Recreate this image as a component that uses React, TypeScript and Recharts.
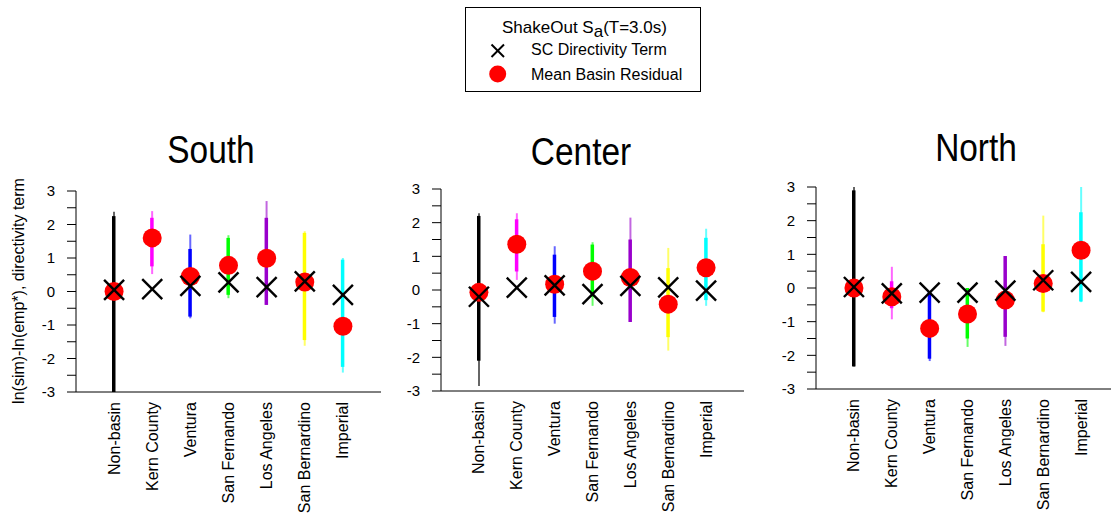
import React from "react";
import { ComposedChart, Bar, Scatter, XAxis, YAxis, Cell } from "recharts";

const REGIONS = [
  "Non-basin",
  "Kern County",
  "Ventura",
  "San Fernando",
  "Los Angeles",
  "San Bernardino",
  "Imperial",
];
const REGION_COLORS = ["#000000", "#ff00ff", "#0000ff", "#00ff00", "#9900cc", "#ffff00", "#00ffff"];
const Y_TICKS = [-3, -2.5, -2, -1.5, -1, -0.5, 0, 0.5, 1, 1.5, 2, 2.5, 3];

// South
const SOUTH_DIR = [0.05, 0.07, 0.17, 0.27, 0.13, 0.3, -0.1];
const SOUTH_RESID = [0.0, 1.6, 0.45, 0.78, 0.99, 0.28, -1.04];
const SOUTH_MIN = [-3.0, 0.52, -0.8, -0.2, -0.4, -1.62, -2.42];
const SOUTH_MAX = [2.38, 2.4, 1.7, 1.68, 2.7, 1.8, 1.0];
const SOUTH_CORE_MIN = [-3.0, 0.75, -0.75, -0.1, -0.4, -1.45, -2.25];
const SOUTH_CORE_MAX = [2.25, 2.2, 1.27, 1.6, 2.2, 1.75, 0.95];

// Center
const CENTER_DIR = [-0.2, 0.07, 0.14, -0.12, 0.12, 0.08, -0.02];
const CENTER_RESID = [-0.07, 1.36, 0.17, 0.56, 0.37, -0.42, 0.66];
const CENTER_MIN = [-2.85, 0.3, -1.0, -0.47, -0.95, -1.8, -0.47];
const CENTER_MAX = [2.28, 2.28, 1.3, 1.42, 2.15, 1.25, 1.82];
const CENTER_CORE_MIN = [-2.1, 0.55, -0.8, -0.2, -0.95, -1.4, -0.3];
const CENTER_CORE_MAX = [2.2, 2.1, 1.05, 1.35, 1.5, 0.65, 1.55];

// North
const NORTH_DIR = [0.03, -0.16, -0.14, -0.14, -0.08, 0.23, 0.18];
const NORTH_RESID = [0.0, -0.26, -1.2, -0.77, -0.36, 0.13, 1.12];
const NORTH_MIN = [-2.33, -0.93, -2.17, -1.75, -1.72, -0.72, -0.42];
const NORTH_MAX = [3.05, 0.63, -0.1, 0.0, 0.95, 2.15, 3.15];
const NORTH_CORE_MIN = [-2.33, -0.6, -2.1, -1.5, -1.45, -0.7, -0.4];
const NORTH_CORE_MAX = [2.9, 0.2, -0.1, 0.0, 0.95, 1.3, 2.25];

const FONT = "'Liberation Sans', Arial, sans-serif";

const build = (
  dir: number[],
  resid: number[],
  lo: number[],
  hi: number[],
  coreLo: number[],
  coreHi: number[]
) =>
  REGIONS.map((name, i) => ({
    name,
    dir: dir[i],
    resid: resid[i],
    full: [lo[i], hi[i]],
    core: [coreLo[i], coreHi[i]],
  }));

const CrossMark = (props: any) => {
  const { cx, cy } = props;
  const s = 10;
  return (
    <g stroke="#000" strokeWidth={2.4}>
      <line x1={cx - s} y1={cy - s} x2={cx + s} y2={cy + s} />
      <line x1={cx - s} y1={cy + s} x2={cx + s} y2={cy - s} />
    </g>
  );
};

const RedDot = (props: any) => <circle cx={props.cx} cy={props.cy} r={9.5} fill="#ff0000" />;

const RegionTick = (props: any) => {
  const { x, y, payload } = props;
  return (
    <text
      x={x}
      y={y}
      transform={`rotate(-90 ${x} ${y})`}
      textAnchor="end"
      dominantBaseline="central"
      fontSize={16}
      fontFamily={FONT}
      fill="#000"
    >
      {payload.value}
    </text>
  );
};

interface PanelProps {
  data: ReturnType<typeof build>;
  left: number;
  width: number;
  margin: { top: number; right: number; bottom: number; left: number };
}

const Panel = ({ data, left, width, margin }: PanelProps) => (
  <div style={{ position: "absolute", left, top: 0 }}>
    <ComposedChart width={width} height={523} data={data} margin={margin}>
      <XAxis
        xAxisId="main"
        dataKey="name"
        type="category"
        padding={{ left: 19, right: 19 }}
        height={30}
        axisLine={{ stroke: "#000" }}
        tickLine={false}
        tickSize={0}
        tickMargin={10}
        interval={0}
        tick={<RegionTick />}
      />
      <XAxis xAxisId="over" dataKey="name" type="category" padding={{ left: 19, right: 19 }} hide />
      <YAxis
        domain={[-3, 3]}
        ticks={Y_TICKS}
        allowDataOverflow
        width={60}
        axisLine={{ stroke: "#000" }}
        tickLine={{ stroke: "#000" }}
        tickSize={9}
        tickMargin={12}
        tickFormatter={(v: number) => (Number.isInteger(v) ? String(v) : "")}
        tick={{ fontSize: 15, fill: "#000", fontFamily: FONT }}
      />
      <Bar xAxisId="main" dataKey="full" barSize={2} isAnimationActive={false}>
        {data.map((d, i) => (
          <Cell key={`f-${i}`} fill={REGION_COLORS[i]} fillOpacity={0.6} />
        ))}
      </Bar>
      <Bar xAxisId="over" dataKey="core" barSize={3.5} isAnimationActive={false}>
        {data.map((d, i) => (
          <Cell key={`c-${i}`} fill={REGION_COLORS[i]} />
        ))}
      </Bar>
      <Scatter xAxisId="main" dataKey="resid" shape={RedDot} isAnimationActive={false} />
      <Scatter xAxisId="main" dataKey="dir" shape={CrossMark} isAnimationActive={false} />
    </ComposedChart>
  </div>
);

const TITLES = [
  { text: "South", x: 211, y: 163 },
  { text: "Center", x: 581, y: 165 },
  { text: "North", x: 976, y: 161 },
];

export default function App() {
  const south = build(SOUTH_DIR, SOUTH_RESID, SOUTH_MIN, SOUTH_MAX, SOUTH_CORE_MIN, SOUTH_CORE_MAX);
  const center = build(CENTER_DIR, CENTER_RESID, CENTER_MIN, CENTER_MAX, CENTER_CORE_MIN, CENTER_CORE_MAX);
  const north = build(NORTH_DIR, NORTH_RESID, NORTH_MIN, NORTH_MAX, NORTH_CORE_MIN, NORTH_CORE_MAX);

  return (
    <div
      style={{
        position: "absolute",
        left: 0,
        top: 0,
        width: 1111,
        height: 523,
        overflow: "hidden",
        background: "#fff",
        fontFamily: FONT,
      }}
    >
      <Panel data={south} left={0} width={400} margin={{ top: 191, right: 19, bottom: 101, left: 16 }} />
      <Panel data={center} left={370} width={400} margin={{ top: 189, right: 26, bottom: 102, left: 11 }} />
      <Panel data={north} left={745} width={374} margin={{ top: 187, right: 0, bottom: 104, left: 11 }} />

      <svg width={1111} height={523} style={{ position: "absolute", left: 0, top: 0, pointerEvents: "none" }}>
        {TITLES.map((t) => (
          <text
            key={t.text}
            x={0}
            y={0}
            transform={`translate(${t.x} ${t.y}) scale(0.88 1)`}
            textAnchor="middle"
            fontSize={38}
            fontFamily={FONT}
            fill="#000"
          >
            {t.text}
          </text>
        ))}
        <text
          x={18}
          y={291}
          transform="rotate(-90 18 291)"
          textAnchor="middle"
          dominantBaseline="central"
          fontSize={16}
          fontFamily={FONT}
          fill="#000"
        >
          ln(sim)-ln(emp*),  directivity term
        </text>

        {/* legend */}
        <rect x={465.5} y={7.5} width={235} height={84} fill="#fff" stroke="#000" strokeWidth={1} />
        <text x={502} y={33} fontSize={17} fontFamily={FONT} fill="#000">
          <tspan fontSize={17}>ShakeOut S</tspan>
          <tspan fontSize={17} dy={4}>a</tspan>
          <tspan fontSize={17} dy={-4}>(T=3.0s)</tspan>
        </text>
        <g stroke="#000" strokeWidth={2}>
          <line x1={491.5} y1={44.5} x2={504} y2={57} />
          <line x1={491.5} y1={57} x2={504} y2={44.5} />
        </g>
        <text x={531} y={55} fontSize={16} fontFamily={FONT} fill="#000">
          SC Directivity Term
        </text>
        <circle cx={497.7} cy={74} r={8.5} fill="#ff0000" />
        <text x={531} y={79.5} fontSize={16} fontFamily={FONT} fill="#000">
          Mean Basin Residual
        </text>
      </svg>
    </div>
  );
}
